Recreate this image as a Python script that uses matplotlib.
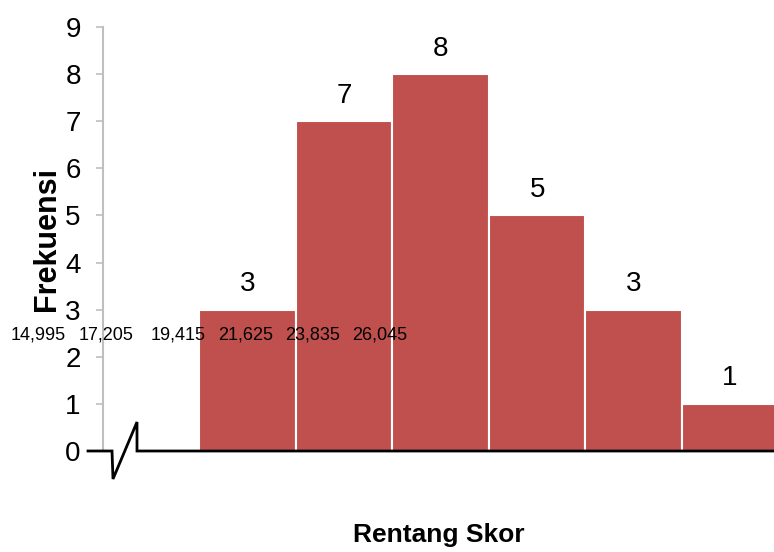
import matplotlib
matplotlib.use('Agg')
import matplotlib.pyplot as plt
from matplotlib import font_manager

# Data: frequency per score bin
bins = ['14,995', '17,205', '19,415', '21,625', '23,835', '26,045']
freq = [3, 7, 8, 5, 3, 1]
bin_start = 1  # first bar sits one bin-width right of the y axis

names = {f.name for f in font_manager.fontManager.ttflist}
narrow = 'Liberation Sans Narrow' if 'Liberation Sans Narrow' in names else 'Liberation Sans'

bar_color = '#C0504D'
axis_gray = '#BFBFBF'

fig = plt.figure(figsize=(7.74, 5.52), dpi=100)
ax = fig.add_axes([103 / 774, 101 / 552, 671 / 774, 424 / 552])

xs = [bin_start + i for i in range(len(freq))]
bars = ax.bar(xs, freq, width=1.0, align='edge', color=bar_color,
              edgecolor='white', linewidth=1.5, zorder=2)

for rect, v in zip(bars, freq):
    ax.annotate(str(v), (rect.get_x() + rect.get_width() / 2, v),
                xytext=(0, 9), textcoords='offset points',
                ha='center', va='bottom', fontsize=20, family=narrow)

ax.set_xlim(0, 6.955)
ax.set_ylim(0, 9)
ax.set_yticks(range(10))
ax.set_xticks([])
ax.tick_params(axis='y', length=5, width=1.2, color=axis_gray, pad=11,
               labelsize=20)
for lab in ax.get_yticklabels():
    lab.set_family(narrow)

for s in ('top', 'right', 'bottom'):
    ax.spines[s].set_visible(False)
ax.spines['left'].set_color(axis_gray)
ax.spines['left'].set_linewidth(1.5)

# baseline with axis-break zigzag
bx = [-15 / 671, 9 / 671, 10 / 671, 34 / 671, 34 / 671, 1.0]
by = [0, 0, -28 / 424, 29 / 424, 0, 0]
ax.plot(bx, by, color='black', lw=2, transform=ax.transAxes,
        clip_on=False, zorder=3, solid_joinstyle='miter')

ax.set_xlabel('Rentang Skor', fontsize=19, fontweight='bold', family=narrow,
              labelpad=52)
ax.set_ylabel('Frekuensi', fontsize=22, fontweight='bold', family='Liberation Sans',
              labelpad=2)

# bin edge labels
label_px = [38, 106, 178, 246, 313, 380]
for lbl, px in zip(bins, label_px):
    fig.text(px / 774, 1 - 335 / 552, lbl, ha='center', va='center',
             fontsize=13, family='Liberation Sans')

fig.savefig('out.png', dpi=100)
